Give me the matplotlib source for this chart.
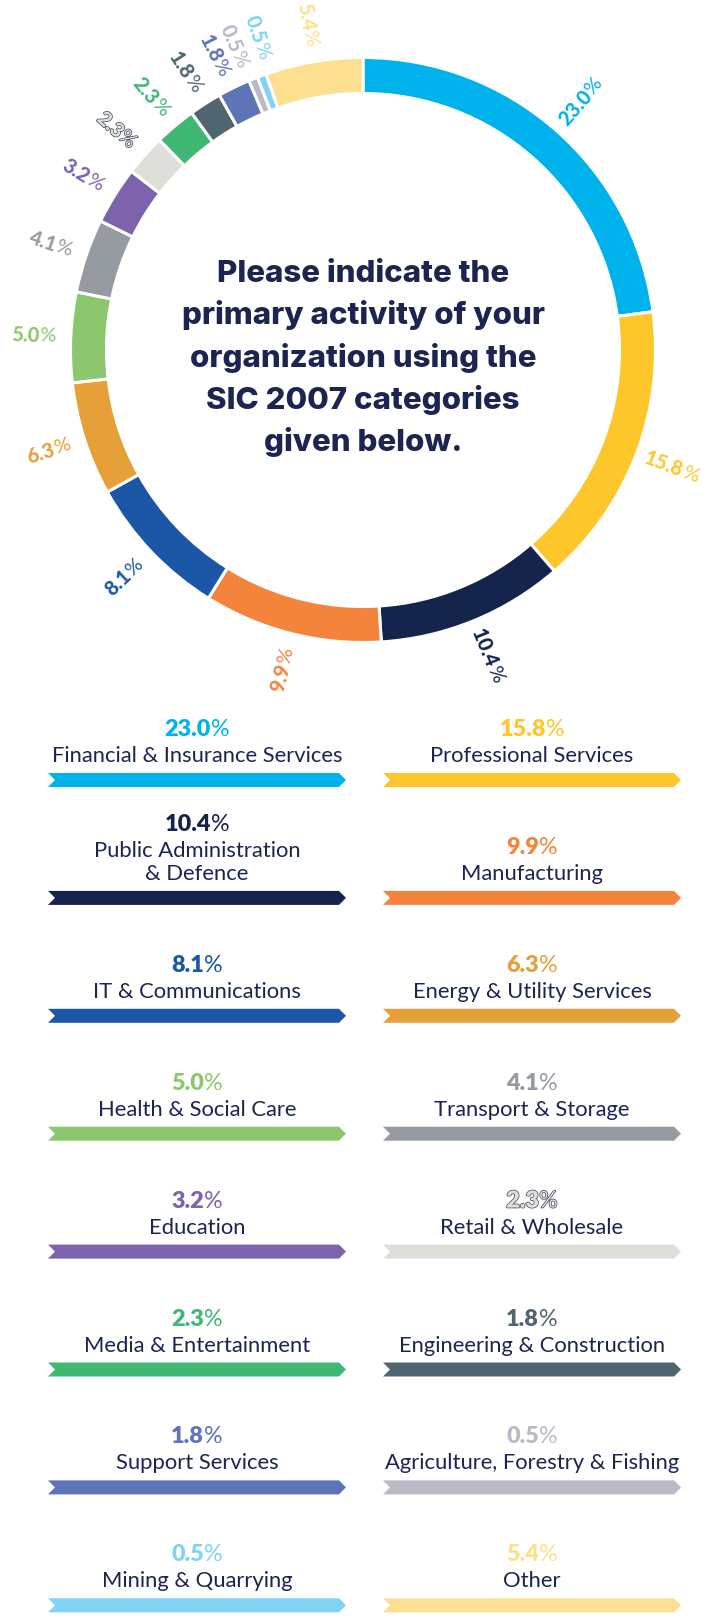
import matplotlib
matplotlib.use("Agg")
import matplotlib.pyplot as plt
import matplotlib.patheffects as pe
from matplotlib.patches import Polygon
from matplotlib.font_manager import FontProperties
import numpy as np

# ---- data ----
categories = [
    "Financial & Insurance Services", "Professional Services",
    "Public Administration\n& Defence", "Manufacturing",
    "IT & Communications", "Energy & Utility Services",
    "Health & Social Care", "Transport & Storage",
    "Education", "Retail & Wholesale",
    "Media & Entertainment", "Engineering & Construction",
    "Support Services", "Agriculture, Forestry & Fishing",
    "Mining & Quarrying", "Other",
]
shares = [23.0, 15.8, 10.4, 9.9, 8.1, 6.3, 5.0, 4.1, 3.2, 2.3, 2.3, 1.8, 1.8, 0.5, 0.5, 5.4]
colors = [
    "#00b2ec", "#fdc72c", "#15244d", "#f4843c", "#1b57a6", "#e5a03a",
    "#8cc76f", "#959ba1", "#7d63ac", "#dfdfd9", "#3fb874", "#4f6670",
    "#5d74b6", "#b9b9c8", "#7fd3f4", "#fde08f",
]
outlined = "Retail & Wholesale"
title = "Please indicate the\nprimary activity of your\norganization using the\nSIC 2007 categories\ngiven below."

# small angular nudges (degrees) so the crowded ring labels do not collide
label_nudge = {"Mining & Quarrying": -1.6, "Agriculture, Forestry & Fishing": 0.9,
               "Support Services": 0.6}

NAVY = "#1b2550"
W, H = 710, 1619
fig = plt.figure(figsize=(W / 100, H / 100), dpi=100)
ax = fig.add_axes([0, 0, 1, 1])


def Y(y):
    return H - y


# ---- donut ----
CX, CY = 363, Y(350)
ax.pie(shares, colors=colors, center=(CX, CY), radius=292.5, startangle=90,
       counterclock=False,
       wedgeprops=dict(width=36, edgecolor="white", linewidth=2.2))
ax.set_xlim(0, W)
ax.set_ylim(0, H)
ax.set_aspect("auto")
ax.axis("off")

renderer = fig.canvas.get_renderer()


def text_width(s, size, weight):
    fp = FontProperties(family="Lato", size=size, weight=weight)
    w, h, d = renderer.get_text_width_height_descent(s, fp, ismath=False)
    return w


def outline_effects(name):
    if name == outlined:
        return [pe.Stroke(linewidth=1.0, foreground="#3b4462"), pe.Normal()]
    return None


# percentage labels around the ring
total = sum(shares)
cum = 0.0
LR = 330
for name, v, c in zip(categories, shares, colors):
    deg = 90 - 360 * (cum + v / 2) / total + label_nudge.get(name, 0.0)
    cum += v
    theta = np.deg2rad(deg)
    px, py = CX + LR * np.cos(theta), CY + LR * np.sin(theta)
    rot = deg + (180 if np.cos(theta) < 0 else 0)
    rot = (rot + 180) % 360 - 180
    num = f"{v:.1f}"
    size = 14.5
    w1 = text_width(num, size, "black")
    w2 = text_width("%", size, "normal")
    d = np.array([np.cos(np.deg2rad(rot)), np.sin(np.deg2rad(rot))])
    start = np.array([px, py]) - d * (w1 + w2) / 2
    eff = outline_effects(name)
    ax.text(*start, num, family="Lato", weight="black", size=size, color=c,
            rotation=rot, rotation_mode="anchor", ha="left", va="center",
            path_effects=eff)
    ax.text(*(start + d * w1), "%", family="Lato", weight="normal", size=size,
            color=c, rotation=rot, rotation_mode="anchor", ha="left", va="center",
            path_effects=eff)

# centre question
for i, line in enumerate(title.split("\n")):
    ax.text(CX, Y(282 + 42.3 * i), line, family="Inter", weight="heavy",
            size=22.5, color=NAVY, ha="center", va="baseline")

# ---- legend ----
col_x = [197, 532]
half = 149
row_y0, row_step = 780, 117.9
bar_h, notch = 14, 7
for k, (name, v, c) in enumerate(zip(categories, shares, colors)):
    row, col = divmod(k, 2)
    xc = col_x[col]
    yb = row_y0 + row_step * row
    x0, x1 = xc - half, xc + half
    pts = [(x0, Y(yb - bar_h / 2)), (x1 - notch, Y(yb - bar_h / 2)), (x1, Y(yb)),
           (x1 - notch, Y(yb + bar_h / 2)), (x0, Y(yb + bar_h / 2)), (x0 + notch, Y(yb))]
    ax.add_patch(Polygon(pts, closed=True, facecolor=c, edgecolor="none"))

    lines = name.split("\n")
    base = yb - 18
    for j, ln in enumerate(reversed(lines)):
        ax.text(xc, Y(base - 23 * j), ln, family="Lato", size=15.8, color=NAVY,
                ha="center", va="baseline")
    top_base = base - 23 * (len(lines) - 1)
    pb = top_base - 26
    num = f"{v:.1f}"
    ps = 16.8
    w1 = text_width(num, ps, "heavy")
    w2 = text_width("%", ps, "normal")
    sx = xc - (w1 + w2) / 2
    eff = outline_effects(name)
    ax.text(sx, Y(pb), num, family="Lato", weight="heavy", size=ps, color=c,
            ha="left", va="baseline", path_effects=eff)
    ax.text(sx + w1, Y(pb), "%", family="Lato", weight="normal", size=ps, color=c,
            ha="left", va="baseline", path_effects=eff)

fig.savefig("out.png", dpi=100, facecolor="white")
